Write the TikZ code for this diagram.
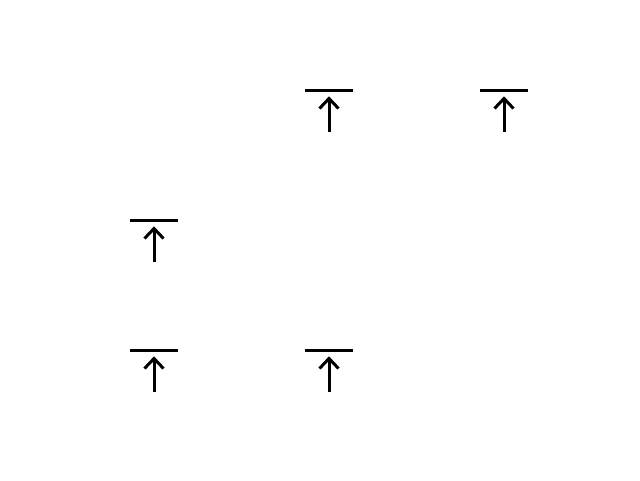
\documentclass[tikz,border=0pt]{standalone}
\begin{document}
\begin{tikzpicture}[x=1pt,y=-1pt,
  symline/.style={line width=3pt,black},
  pics/uparrowbar/.style={code={
    \draw[symline] (-24,-20) -- (24,-20);
    \draw[symline] (0,21.7) -- (0,-11);
    \draw[symline,line join=miter] (-9.5,-1.5) -- (0,-11.5) -- (9.5,-1.5);
  }}]
\useasboundingbox (0,0) rectangle (640,480);
\coordinate (p1) at (329,110);
\coordinate (p2) at (504,110);
\coordinate (p3) at (154,240);
\coordinate (p4) at (154,370);
\coordinate (p5) at (329,370);
\foreach \p in {p1,p2,p3,p4,p5} \pic at (\p) {uparrowbar};
\end{tikzpicture}
\end{document}
